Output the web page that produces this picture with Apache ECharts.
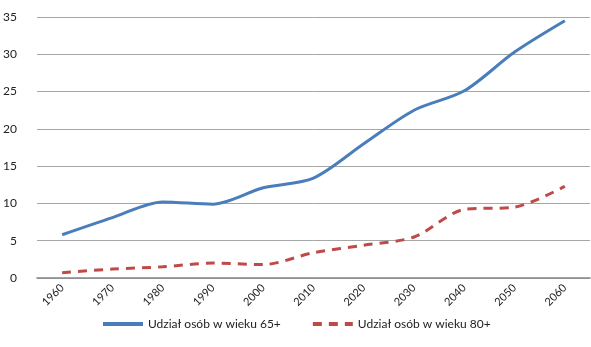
<!DOCTYPE html>
<head>
    <meta charset="utf-8">
    <title>Udział osób starszych</title>
    <script src="https://cdn.jsdelivr.net/npm/echarts@6/dist/echarts.min.js"></script>
</head>
<body style="margin:0">
    <div id="main" style="width:591px;height:347px"></div>
    <script type="text/javascript">
    var years = ['1960', '1970', '1980', '1990', '2000', '2010', '2020', '2030', '2040', '2050', '2060'];
    var share65 = [5.8, 8.1, 10.2, 9.9, 12.1, 13.4, 18.0, 22.5, 25.1, 30.3, 34.5];
    var share80 = [0.7, 1.2, 1.5, 2.0, 1.8, 3.4, 4.4, 5.5, 9.2, 9.5, 12.3];
    var yTicks = [0, 5, 10, 15, 20, 25, 30, 35];

    var myChart = echarts.init(document.getElementById('main'));
    myChart.setOption({
        animation: false,
        textStyle: {fontFamily: 'Lato'},
        grid: {left: 37, right: 1, top: 17, bottom: 69},
        legend: {
            bottom: 12,
            left: 96,
            itemWidth: 40,
            itemHeight: 10,
            itemGap: 30,
            itemStyle: {opacity: 0},
            lineStyle: {width: 4},
            textStyle: {fontSize: 12, color: '#222'},
            data: ['Udział osób w wieku 65+', 'Udział osób w wieku 80+']
        },
        xAxis: {
            type: 'category',
            data: years,
            boundaryGap: true,
            axisLine: {lineStyle: {color: '#868686', width: 1.5}},
            axisTick: {show: false},
            axisLabel: {rotate: 45, fontSize: 11, color: '#222', margin: 8}
        },
        yAxis: {
            type: 'value',
            min: yTicks[0],
            max: yTicks[yTicks.length - 1],
            interval: 5,
            axisLine: {show: false},
            axisTick: {show: false},
            axisLabel: {fontSize: 12, color: '#222', margin: 20},
            splitLine: {lineStyle: {color: '#a6a6a6', width: 1}}
        },
        series: [{
            name: 'Udział osób w wieku 65+',
            type: 'line',
            data: share65,
            smooth: 0.3,
            symbol: 'none',
            lineStyle: {color: '#4a7ebb', width: 3},
            itemStyle: {color: '#4a7ebb'}
        }, {
            name: 'Udział osób w wieku 80+',
            type: 'line',
            data: share80,
            smooth: 0.3,
            symbol: 'none',
            lineStyle: {color: '#be4b48', width: 3, type: [9, 7]},
            itemStyle: {color: '#be4b48'}
        }]
    });
    </script>
</body>
